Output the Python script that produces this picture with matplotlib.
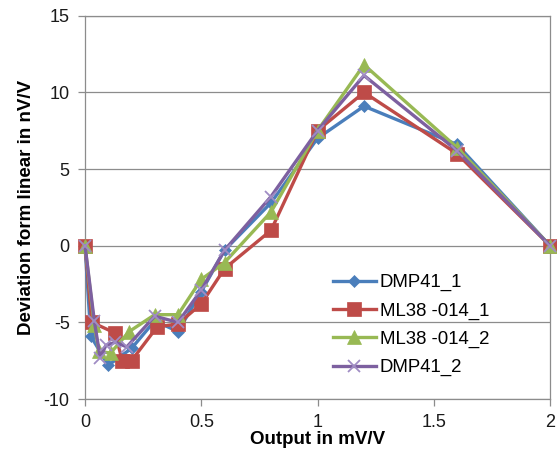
import matplotlib
matplotlib.use("Agg")
import matplotlib.pyplot as plt

# ---- data ----
labels = ["DMP41_1", "ML38 -014_1", "ML38 -014_2", "DMP41_2"]

x_dmp41_1 = [0, 0.025, 0.1, 0.2, 0.3, 0.4, 0.5, 0.6, 0.8, 1.0, 1.2, 1.6, 2.0]
y_dmp41_1 = [0, -5.9, -7.8, -6.7, -4.9, -5.6, -3.0, -0.3, 2.8, 7.0, 9.1, 6.6, 0]

x_ml38_1 = [0, 0.03, 0.13, 0.16, 0.2, 0.31, 0.4, 0.5, 0.6, 0.8, 1.0, 1.2, 1.6, 2.0]
y_ml38_1 = [0, -5.0, -5.7, -7.5, -7.5, -5.3, -5.1, -3.8, -1.5, 1.0, 7.5, 10.0, 6.0, 0]

x_ml38_2 = [0, 0.04, 0.06, 0.11, 0.19, 0.3, 0.4, 0.5, 0.6, 0.8, 1.0, 1.2, 1.6, 2.0]
y_ml38_2 = [0, -5.2, -6.9, -7.0, -5.6, -4.5, -4.5, -2.2, -1.1, 2.2, 7.5, 11.8, 6.4, 0]

x_dmp41_2 = [0, 0.04, 0.065, 0.09, 0.13, 0.18, 0.3, 0.4, 0.5, 0.6, 0.8, 1.0, 1.2, 1.6, 2.0]
y_dmp41_2 = [0, -4.9, -7.3, -6.5, -6.3, -6.6, -4.6, -5.0, -2.9, -0.3, 3.2, 7.5, 11.1, 6.2, 0]

x_ticks = [0, 0.5, 1, 1.5, 2]
x_ticklabels = ["0", "0.5", "1", "1.5", "2"]
y_ticks = [-10, -5, 0, 5, 10, 15]

# ---- style ----
plt.rcParams['font.family'] = ['Liberation Sans', 'DejaVu Sans']
plt.rcParams['axes.unicode_minus'] = False
colors = ["#4A7EBB", "#BE4B48", "#98B954", "#7D60A0"]
markers = ["D", "s", "^", "x"]
msizes = [6.3, 9.5, 10.0, 9.0]

fig = plt.figure(figsize=(5.57, 4.61), dpi=100)
ax = fig.add_axes([85 / 557, 1 - 399 / 461, (550 - 85) / 557, (399 - 15.7) / 461])

series = [(x_dmp41_1, y_dmp41_1), (x_ml38_1, y_ml38_1),
          (x_ml38_2, y_ml38_2), (x_dmp41_2, y_dmp41_2)]
for (xs, ys), lab, c, m, ms in zip(series, labels, colors, markers, msizes):
    kw = dict(color=c, lw=2.4, marker=m, markersize=ms, label=lab,
              markerfacecolor=c, markeredgecolor=c, clip_on=False, zorder=3)
    if m == "x":
        kw.update(markeredgewidth=1.3, markeredgecolor="#A08CC4")
    else:
        kw.update(markeredgewidth=0.5)
    ax.plot(xs, ys, **kw)

ax.set_xlim(0, 2)
ax.set_ylim(-10, 15)
ax.set_xticks(x_ticks)
ax.set_xticklabels(x_ticklabels)
ax.set_yticks(y_ticks)
ax.yaxis.grid(True, color="#8C8C8C", lw=0.9)
ax.set_axisbelow(True)
for s in ax.spines.values():
    s.set_color("#8C8C8C")
    s.set_linewidth(0.9)
ax.tick_params(axis="both", colors="#8C8C8C", labelcolor="#1a1a1a",
               labelsize=13, length=5, width=0.9, direction="out")
ax.tick_params(axis="x", pad=6)
ax.tick_params(axis="y", pad=6)

ax.set_xlabel("Output in mV/V", fontsize=13.5, fontweight="bold", labelpad=0)
ax.set_ylabel("Deviation form linear in nV/V", fontsize=13.5, fontweight="bold", labelpad=6)

leg = ax.legend(loc="upper left", bbox_to_anchor=(333 / 557, 1 - 274 / 461),
                bbox_transform=fig.transFigure, frameon=False, fontsize=13.4,
                handlelength=2.3, handletextpad=0.2, labelspacing=0.6,
                borderaxespad=0, borderpad=0)

fig.savefig("out.png", dpi=100)
